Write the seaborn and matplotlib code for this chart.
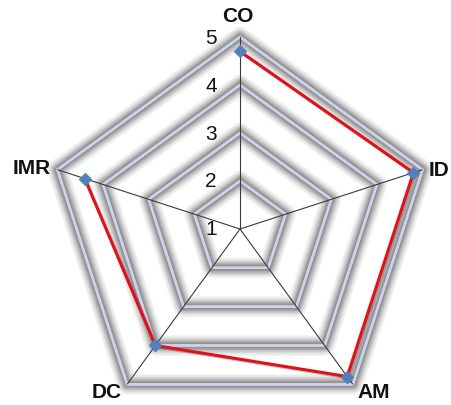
import numpy as np
import pandas as pd
import matplotlib
matplotlib.use("Agg")
import matplotlib.pyplot as plt
import matplotlib.patheffects as pe
import seaborn as sns

categories = ["CO", "ID", "AM", "DC", "IMR"]
values = [4.7, 4.8, 4.8, 4.0, 4.4]
ring_levels = [2, 3, 4, 5]
tick_values = [1, 2, 3, 4, 5]
tick_labels = ["1", "2", "3", "4", "5"]

sns.set_theme(style="white")
plt.rcParams["font.family"] = ["Liberation Sans", "DejaVu Sans"]

W, H = 451, 406
fig = plt.figure(figsize=(W / 100, H / 100), dpi=100)
cx, cy, R = 240, 230, 192
ax = fig.add_axes([(cx - R) / W, (H - cy - R) / H, 2 * R / W, 2 * R / H], projection="polar")
ax.set_theta_zero_location("N")
ax.set_theta_direction(-1)
ax.set_ylim(1, 5)
ax.grid(False)
ax.set_xticks([])
ax.set_yticks([])
ax.spines["polar"].set_visible(False)
ax.patch.set_alpha(0)

n = len(categories)
angles = np.linspace(0, 2 * np.pi, n, endpoint=False)
closed_angles = np.append(angles, angles[0])

# ring pentagons with blurred grey halo
halo = [pe.withStroke(linewidth=w, foreground="#3c3c3c", alpha=a)
        for w, a in [(15, 0.05), (13, 0.07), (10.5, 0.1), (8.5, 0.13), (6.5, 0.16), (4.5, 0.2)]]
for lvl in ring_levels:
    ax.plot(closed_angles, [lvl] * (n + 1), color="#CDD1EA", lw=1.7,
            path_effects=halo + [pe.Normal()], zorder=2, clip_on=False)

# spokes
for a in angles:
    ax.plot([a, a], [1, 5], color="#3a3a3a", lw=0.8, zorder=3)

df = pd.DataFrame({"theta": np.append(angles, angles[0]),
                   "value": values + [values[0]]})
sns.lineplot(data=df, x="theta", y="value", sort=False, ax=ax, color="#E3101A",
             lw=2.2, zorder=4,
             path_effects=[pe.SimpleLineShadow(offset=(1, -1), alpha=0.25), pe.Normal()])
pts = pd.DataFrame({"theta": angles, "value": values})
sns.scatterplot(data=pts, x="theta", y="value", ax=ax, marker="D", s=42,
                color="#4F81BD", edgecolor="#4F81BD", zorder=5)
ax.set_xlabel("")
ax.set_ylabel("")
ax.set_ylim(1, 5)

# tick labels along the first axis
for v, t in zip(tick_values, tick_labels):
    ax.annotate(t, xy=(0, v), xytext=(-23, 0), textcoords="offset pixels",
                ha="right", va="center", fontsize=15, color="#111111",
                annotation_clip=False)

# category labels
offsets = [(-2, 21, "center"), (6, 0, "left"), (5, -7, "left"),
           (-5, -7, "right"), (-7, 2, "right")]
for a, lab, (dx, dy, ha) in zip(angles, categories, offsets):
    ax.annotate(lab, xy=(a, 5), xytext=(dx, dy), textcoords="offset pixels",
                ha=ha, va="center", fontsize=15, fontweight="bold", color="#111111",
                annotation_clip=False)

fig.savefig("out.png", dpi=100)
